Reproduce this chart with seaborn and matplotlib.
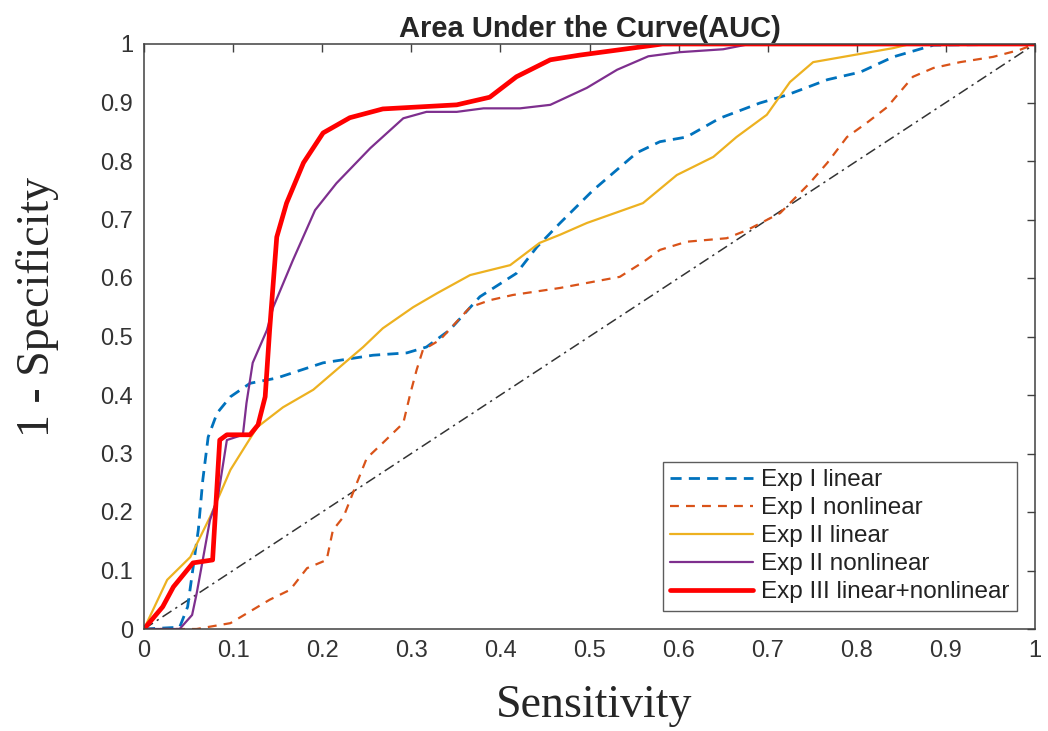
import numpy as np
import pandas as pd
import matplotlib
matplotlib.use("Agg")
import matplotlib.pyplot as plt
import seaborn as sns
from matplotlib.ticker import FixedLocator, FuncFormatter

# ---------------- data ----------------
labels = ["Exp I linear", "Exp I nonlinear", "Exp II linear",
          "Exp II nonlinear", "Exp III linear+nonlinear"]

exp1_lin_x = [0, 0.04, 0.049, 0.061, 0.066, 0.072, 0.082, 0.097, 0.119, 0.149, 0.201, 0.257,
              0.295, 0.317, 0.343, 0.377, 0.418, 0.441, 0.467, 0.504, 0.553, 0.579, 0.609,
              0.646, 0.691, 0.722, 0.767, 0.804, 0.841, 0.886, 1.0]
exp1_lin_y = [0, 0.003, 0.038, 0.17, 0.255, 0.328, 0.369, 0.397, 0.42, 0.429, 0.455, 0.468,
              0.472, 0.482, 0.511, 0.568, 0.608, 0.653, 0.694, 0.75, 0.814, 0.833, 0.841,
              0.873, 0.899, 0.913, 0.939, 0.952, 0.978, 0.998, 1.0]

exp1_non_x = [0, 0.059, 0.097, 0.141, 0.164, 0.183, 0.205, 0.212, 0.224, 0.239, 0.25, 0.268,
              0.291, 0.299, 0.306, 0.313, 0.332, 0.366, 0.388, 0.414, 0.467, 0.534, 0.56,
              0.579, 0.609, 0.654, 0.677, 0.714, 0.747, 0.767, 0.789, 0.811, 0.834, 0.863,
              0.886, 0.916, 0.953, 0.983, 1.0]
exp1_non_y = [0, 0.0, 0.01, 0.05, 0.067, 0.104, 0.118, 0.169, 0.192, 0.25, 0.292, 0.318,
              0.352, 0.403, 0.443, 0.477, 0.494, 0.55, 0.562, 0.571, 0.583, 0.602, 0.627,
              0.648, 0.662, 0.668, 0.682, 0.711, 0.762, 0.797, 0.841, 0.865, 0.892, 0.944,
              0.959, 0.969, 0.978, 0.99, 1.0]

exp2_lin_x = [0, 0.026, 0.052, 0.074, 0.097, 0.127, 0.156, 0.19, 0.216, 0.246, 0.268, 0.302,
              0.329, 0.366, 0.411, 0.444, 0.467, 0.497, 0.56, 0.598, 0.639, 0.665, 0.699,
              0.725, 0.751, 0.796, 0.841, 0.86, 1.0]
exp2_lin_y = [0, 0.084, 0.123, 0.191, 0.272, 0.345, 0.379, 0.409, 0.443, 0.482, 0.514, 0.55,
              0.574, 0.605, 0.622, 0.66, 0.674, 0.694, 0.728, 0.776, 0.807, 0.841, 0.879,
              0.935, 0.969, 0.981, 0.993, 1.0, 1.0]

exp2_non_x = [0, 0.04, 0.054, 0.059, 0.065, 0.074, 0.083, 0.093, 0.111, 0.115, 0.122, 0.138,
              0.145, 0.167, 0.192, 0.216, 0.254, 0.291, 0.317, 0.351, 0.381, 0.422, 0.456,
              0.497, 0.531, 0.566, 0.601, 0.65, 0.68, 1.0]
exp2_non_y = [0, 0.0, 0.024, 0.06, 0.11, 0.186, 0.226, 0.323, 0.332, 0.386, 0.455, 0.511,
              0.55, 0.63, 0.716, 0.762, 0.822, 0.873, 0.884, 0.884, 0.89, 0.89, 0.896,
              0.925, 0.956, 0.979, 0.986, 0.991, 1.0, 1.0]

exp3_x = [0, 0.021, 0.033, 0.055, 0.077, 0.085, 0.093, 0.119, 0.128, 0.136, 0.141, 0.149,
          0.16, 0.179, 0.201, 0.231, 0.268, 0.351, 0.388, 0.418, 0.456, 0.489, 0.582, 1.0]
exp3_y = [0, 0.038, 0.072, 0.113, 0.118, 0.323, 0.332, 0.332, 0.349, 0.397, 0.511, 0.67,
          0.728, 0.797, 0.848, 0.874, 0.889, 0.896, 0.909, 0.944, 0.973, 0.981, 1.0, 1.0]

diag_x = [0, 1]
diag_y = [0, 1]

ticks = [0, 0.1, 0.2, 0.3, 0.4, 0.5, 0.6, 0.7, 0.8, 0.9, 1.0]

# ---------------- style ----------------
sns.set_style("white")
plt.rcParams['font.family'] = ['Liberation Sans', 'DejaVu Sans']

colors = ["#0072BD", "#D95319", "#EDB120", "#7E2F8E", "#FF0000"]
widths = [2.0, 1.6, 1.6, 1.6, 3.4]
styles = [(0, (4, 2.6)), (0, (4, 3.2)), "-", "-", "-"]
xs = [exp1_lin_x, exp1_non_x, exp2_lin_x, exp2_non_x, exp3_x]
ys = [exp1_lin_y, exp1_non_y, exp2_lin_y, exp2_non_y, exp3_y]

fig = plt.figure(figsize=(10.48, 7.31), dpi=100)
ax = fig.add_axes([144/1048, (731-629)/731, (1035-144)/1048, (629-44)/731])

sns.lineplot(x=diag_x, y=diag_y, ax=ax, color="#333333", lw=1.1,
             linestyle=(0, (7, 3, 1.5, 3)), sort=False, estimator=None, legend=False)

handles = []
for x, y, c, w, s, lab in zip(xs, ys, colors, widths, styles, labels):
    df = pd.DataFrame({"x": x, "y": y})
    sns.lineplot(data=df, x="x", y="y", ax=ax, color=c, lw=w, linestyle=s,
                 sort=False, estimator=None, legend=False)
    handles.append(ax.lines[-1])

ax.set_xlim(0, 1)
ax.set_ylim(0, 1)
fmt = FuncFormatter(lambda v, p: f"{v:g}")
ax.xaxis.set_major_locator(FixedLocator(ticks))
ax.yaxis.set_major_locator(FixedLocator(ticks))
ax.xaxis.set_major_formatter(fmt)
ax.yaxis.set_major_formatter(fmt)
ax.tick_params(direction="in", length=6, width=1, color="#404040",
               top=True, right=True, labelsize=17, labelcolor="#333333", pad=8)
for sp in ax.spines.values():
    sp.set_visible(True)
    sp.set_color("#404040")
    sp.set_linewidth(1.1)

ax.set_title("Area Under the Curve(AUC)", fontsize=21, fontweight="bold", pad=5)
ax.set_xlabel("Sensitivity", fontsize=33, family=["Liberation Serif", "DejaVu Serif"])
ax.set_ylabel("1 - Specificity", fontsize=33, family=["Liberation Serif", "DejaVu Serif"],
              va="center")
ax.yaxis.set_label_coords((38 - 144) / 891, (629 - 307) / 585)
ax.xaxis.set_label_coords((594 - 144) / 891, (629 - 706) / 585)
ax.xaxis.label.set_va("center")

leg = ax.legend(handles, labels, loc="lower right", fontsize=17.5, frameon=True,
                fancybox=False, edgecolor="#333333", handlelength=3.4,
                handletextpad=0.35, labelspacing=0.25, borderaxespad=0.75,
                borderpad=0.3)
leg.get_frame().set_linewidth(1.0)
for t in leg.get_texts():
    t.set_color("#222222")

fig.savefig("out.png", dpi=100)
